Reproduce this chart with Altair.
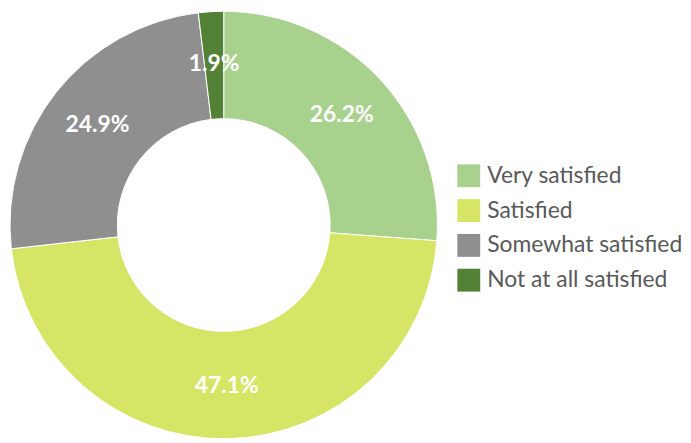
import altair as alt
import pandas as pd

categories = ["Very satisfied", "Satisfied", "Somewhat satisfied", "Not at all satisfied"]
values = [26.2, 47.1, 24.9, 1.9]
labels = ["26.2%", "47.1%", "24.9%", "1.9%"]
colors = ["#a9d18e", "#d7e566", "#8f8f8f", "#538135"]

df = pd.DataFrame({
    "category": categories,
    "value": values,
    "label": labels,
    "order": list(range(len(categories))),
})

base = alt.Chart(df).encode(
    theta=alt.Theta("value:Q", stack=True),
    order=alt.Order("order:Q"),
)

arcs = base.mark_arc(outerRadius=215, innerRadius=107, stroke="white", strokeWidth=1).encode(
    color=alt.Color(
        "category:N",
        scale=alt.Scale(domain=categories, range=colors),
        sort=categories,
        legend=alt.Legend(
            title=None,
            orient="none",
            legendX=450,
            legendY=154,
            symbolType="square",
            symbolSize=529,
            symbolStrokeWidth=0,
            labelFontSize=23,
            labelFont="Lato",
            labelColor="#595959",
            labelOffset=7,
            rowPadding=11,
            padding=0,
            labelLimit=300,
        ),
    )
)

text = base.mark_text(
    radius=162, font="Lato", fontSize=23, fontWeight="bold", color="white"
).encode(text="label:N")

chart = (arcs + text).properties(width=430, height=430, padding=0).configure_view(stroke=None)

chart.save("out.html", embed_options={"renderer": "svg", "actions": False})
